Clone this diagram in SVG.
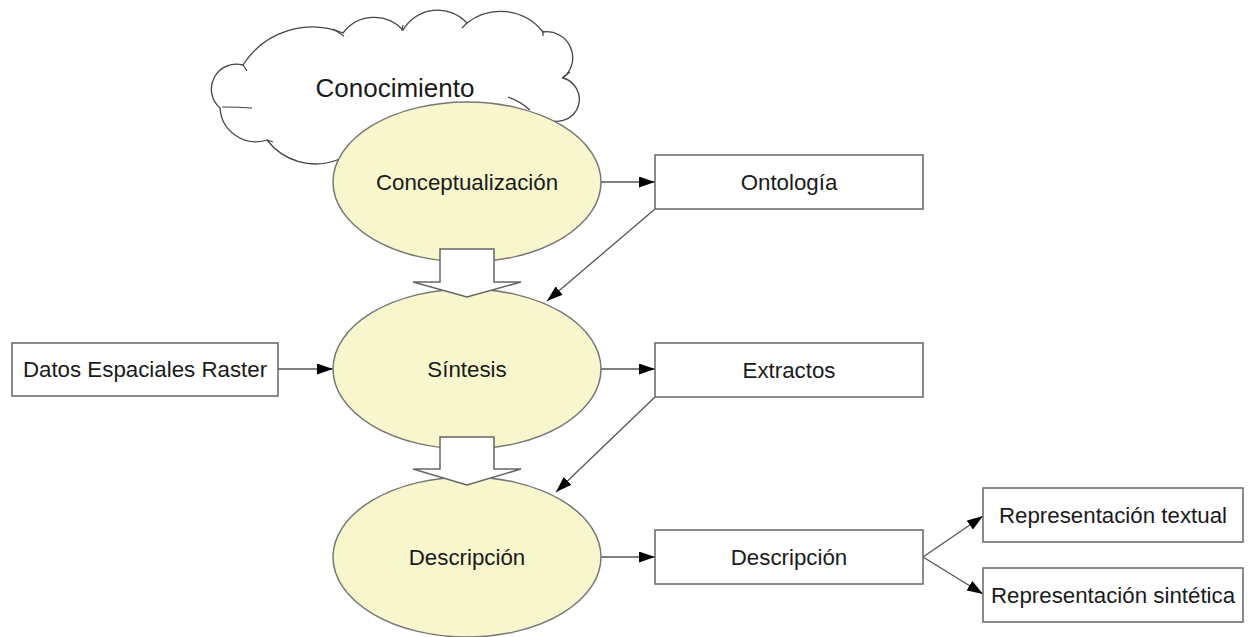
<svg xmlns="http://www.w3.org/2000/svg" width="1249" height="637" viewBox="0 0 1249 637">
<style>
.t{font-family:"Liberation Sans",Arial,sans-serif;font-size:22.3px;fill:#1a1a1a;text-anchor:middle;dominant-baseline:central}
.e{fill:#f7f6cd;stroke:#777;stroke-width:1.5}
.b{fill:#fff;stroke:#666;stroke-width:1.5}
.c{fill:none;stroke:#555;stroke-width:1.3}
.ba{fill:#fff;stroke:#666;stroke-width:1.5;stroke-linejoin:miter}
</style>
<defs>
<marker id="ah" viewBox="0 0 16 11" refX="16" refY="5.5" markerWidth="16" markerHeight="11" markerUnits="userSpaceOnUse" orient="auto">
<path d="M0,0 L16,5.5 L0,11 Z" fill="#000"/>
</marker>
</defs>
<g id="cloud">
<path d="M267,140 A36,36 0 0 1 220,108 A25,25 0 0 1 243,65 A82,82 0 0 1 343,33 A39,39 0 0 1 403,30 A40,40 0 0 1 467,23 A54,54 0 0 1 543,32 A26,26 0 0 1 563,78 A22,22 0 1 1 550,120 L450,150 L337,160 A61,61 0 0 1 267,140 Z" fill="#fff" stroke="#444" stroke-width="1.3"/>
<path d="M222,107 Q238,107 252,108 M243,65 L247,71 M333,29 L344,36 M403,25 L402,31 M467,23 L462,28 M543,31 L543,36 M570,72 L562,78 M508,97 Q520,101 530,110 M267,140 L273,142" fill="none" stroke="#444" stroke-width="1.2"/>
<text class="t" x="395" y="88" style="font-size:26px">Conocimiento</text>
</g>
<g id="connectors">
<line class="c" x1="601" y1="182" x2="655" y2="182" marker-end="url(#ah)"/>
<line class="c" x1="655" y1="209" x2="547" y2="301" marker-end="url(#ah)"/>
<line class="c" x1="278" y1="369" x2="333" y2="369" marker-end="url(#ah)"/>
<line class="c" x1="601" y1="369" x2="655" y2="369" marker-end="url(#ah)"/>
<line class="c" x1="655" y1="397" x2="556" y2="492" marker-end="url(#ah)"/>
<line class="c" x1="601" y1="557" x2="655" y2="557" marker-end="url(#ah)"/>
<line class="c" x1="923" y1="557" x2="983" y2="516" marker-end="url(#ah)"/>
<line class="c" x1="923" y1="557" x2="983" y2="594" marker-end="url(#ah)"/>
</g>
<g id="conceptualizacion">
<ellipse class="e" cx="467" cy="182" rx="134" ry="80"/>
<text class="t" x="467" y="182">Conceptualización</text>
</g>
<g id="sintesis">
<ellipse class="e" cx="467" cy="369" rx="134" ry="80"/>
<text class="t" x="467" y="369">Síntesis</text>
</g>
<g id="descripcion">
<ellipse class="e" cx="467" cy="557" rx="134" ry="80"/>
<text class="t" x="467" y="557">Descripción</text>
</g>
<g id="flecha1">
<path class="ba" d="M440,249 L494,249 L494,282 L521,282 L467,297 L413,282 L440,282 Z"/>
</g>
<g id="flecha2">
<path class="ba" d="M440,437 L494,437 L494,469 L521,469 L467,485 L413,469 L440,469 Z"/>
</g>
<g id="ontologia">
<rect class="b" x="655" y="155" width="268" height="54"/>
<text class="t" x="789" y="182">Ontología</text>
</g>
<g id="extractos">
<rect class="b" x="655" y="343" width="268" height="54"/>
<text class="t" x="789" y="370">Extractos</text>
</g>
<g id="datos">
<rect class="b" x="12" y="343" width="266" height="53"/>
<text class="t" x="145" y="369">Datos Espaciales Raster</text>
</g>
<g id="descripcion-box">
<rect class="b" x="655" y="530" width="268" height="54"/>
<text class="t" x="789" y="557">Descripción</text>
</g>
<g id="rep-textual">
<rect class="b" x="983" y="488" width="260" height="54"/>
<text class="t" x="1113" y="515">Representación textual</text>
</g>
<g id="rep-sintetica">
<rect class="b" x="983" y="568" width="260" height="54"/>
<text class="t" x="1113" y="595">Representación sintética</text>
</g>
</svg>
